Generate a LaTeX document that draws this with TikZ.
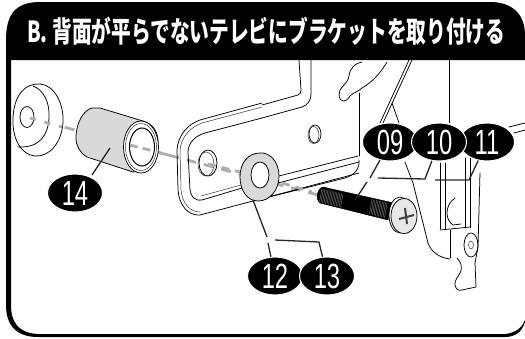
\documentclass[tikz,border=0pt]{standalone}
\usepackage{fontspec}
\usetikzlibrary{shapes.geometric}
\newfontfamily\cjkfont[FakeStretch=0.68]{Noto Sans CJK JP}
\newfontfamily\numfont[FakeStretch=0.68]{Liberation Sans}
\definecolor{partgray}{gray}{0.85}
\definecolor{axisgray}{gray}{0.68}
\tikzset{
  art/.style={draw=black,line width=0.75pt,line join=round,line cap=round},
  thinart/.style={draw=black!80,line width=0.5pt,line cap=round},
  axisline/.style={draw=axisgray,line width=2.8pt,dash pattern=on 10pt off 8pt},
  leader/.style={draw=black!85,line width=1.3pt},
  num/.style={shape=ellipse,fill=black,draw=white,line width=1pt,text=white,inner sep=0pt,minimum width=55pt,minimum height=38pt,font=\numfont\fontsize{35}{35}\selectfont},
  titletext/.style={text=white,inner sep=0pt,font=\cjkfont\bfseries\fontsize{29}{29}\selectfont}
}
\begin{document}
\begin{tikzpicture}[x=1pt,y=-1pt]
\useasboundingbox (0,0) rectangle (525,338);
\fill[white] (0,0) rectangle (525,338);
% frame
\fill[black] (6,40) .. controls (6,15) and (15,2) .. (40,2) -- (490,2) .. controls (512,2) and (525,14) .. (525,35) -- (525,60) -- (11,60) -- (11,305) .. controls (11,322) and (18,333) .. (38,334) -- (505,334) .. controls (515,333) and (522,328) .. (525,320) -- (525,322) .. controls (522,332) and (515,337) .. (505,337) -- (38,337) .. controls (16,337) and (6,325) .. (6,305) -- cycle;
\node[titletext,anchor=west] (title) at (27,31) {B. 背面が平らでないテレビにブラケットを取り付ける};
% axis
\draw[axisline] (30,118) -- (318,195);
% cap washer
\path[art,fill=white] (13,118) .. controls (14,95) and (25,83) .. (40,84) .. controls (55,85) and (64,105) .. (63,122) .. controls (62,142) and (50,157) .. (35,156) .. controls (22,155) and (12,140) .. (13,118) -- cycle;
\draw[art] (33,86) .. controls (44,90) and (50,103) .. (49,118) .. controls (48,135) and (40,148) .. (18,147);
\draw[art] (27,117) ellipse [x radius=7,y radius=10.5];
\draw[axisline,dash pattern=on 6pt off 9pt] (30,118) -- (62,127);
% sleeve
\path[art,fill=partgray] (92,108) .. controls (84,110) and (76,122) .. (76,138) .. controls (76,146) and (80,153) .. (87,157) -- (133,172) .. controls (150,170) and (158,155) .. (158,142) .. controls (158,130) and (152,124) .. (143,121) -- (100,108) -- cycle;
\path[art,fill=white] (141,147) ellipse [x radius=17.5,y radius=26];
\draw[thinart] (141,147) ellipse [x radius=15.5,y radius=23.5];
\path[draw=black,line width=1pt,fill=white] (142,147) ellipse [x radius=12.5,y radius=19];
\draw[axisline,dash pattern=on 8pt off 5pt] (130,145) -- (153,151);
\draw[axisline] (160,153) -- (177,157);
% bracket plate
\draw[art] (262,103) -- (200,120) .. controls (188,124) and (178,135) .. (177,150) -- (178,190) .. controls (179,205) and (188,216) .. (200,215) -- (359,173);
\draw[thinart] (262,107) -- (202,123) .. controls (190,127) and (181,138) .. (180,150) -- (181,190) .. controls (182,203) and (190,212) .. (200,212);
\draw[art] (262,118) -- (205,133) .. controls (195,136) and (188,143) .. (188,152) -- (190,190) .. controls (191,197) and (195,201) .. (202,200) -- (242,188);
\draw[thinart] (201,196) -- (241,185);
\draw[art] (262,118) -- (302,107) .. controls (308,105) and (311,100) .. (311,94) -- (311,60);
\draw[art] (262,105) -- (298,95) .. controls (300,94) and (301,93) .. (301,90) -- (299,60);
\draw[art] (208,163) ellipse [x radius=9,y radius=13];
\draw[thinart] (206,164) ellipse [x radius=8,y radius=12];
\draw[art] (315,134) ellipse [x radius=6,y radius=9];
\draw[thinart] (313.5,135) ellipse [x radius=5.5,y radius=8.5];
\draw[axisline,dash pattern=on 8pt off 6pt] (208,164) -- (240,172);
\draw[art] (275,177) -- (358,156);
\draw[art] (278,183) -- (359,162);
\draw[art] (269,197) -- (345,178) .. controls (355,175) and (360,168) .. (359,160);
\draw[art] (359,93) -- (359,156);
% upper bracket details
\draw[art] (362,62) .. controls (355,63) and (350,68) .. (349,76) .. controls (348,84) and (338,88) .. (339,95) .. controls (340,103) and (346,103) .. (350,96) .. controls (354,92) and (358,92) .. (362,88) .. controls (372,82) and (380,74) .. (387,62);
% washer
\path[art,fill=partgray] (260,153) .. controls (270,152) and (279,162) .. (279,176) .. controls (279,190) and (270,201) .. (258,201) .. controls (247,201) and (240,190) .. (240,177) .. controls (240,163) and (248,153) .. (260,153) -- cycle;
\path[art,fill=white] (260,175) ellipse [x radius=9,y radius=13];
\draw[axisline,dash pattern=on 8pt off 6pt] (282,183) -- (312,192);
% right structure
\draw[art] (409,60) -- (380,123);
\draw[art] (412,60) -- (383,123);
\draw[art] (392,103) -- (399,123);
\draw[art] (449,60) -- (449,123);
\draw[art] (405,162) -- (413,183) -- (428,243) .. controls (431,252) and (440,258) .. (450,259);
\draw[art] (440,163) -- (440,229);
\draw[art] (445,163) -- (445,229);
\draw[art] (465,158) -- (465,228);
\draw[art] (470,158) -- (470,228);
\draw[art] (480,173) -- (478,247) -- (475,263);
\draw[art] (440,230) -- (470,227);
\draw[art] (445,215) -- (445,215);
\draw[art] (455,198) .. controls (449,202) and (447,208) .. (447,213) .. controls (447,219) and (450,223) .. (453,225) -- (461,224);
\draw[art] (450,230) -- (450,258);
\draw[art] (471,245) ellipse [x radius=7,y radius=12];
\draw[thinart] (471,245) ellipse [x radius=2.5,y radius=4];
\draw[art] (457,258) .. controls (461,262) and (462,266) .. (461,271) .. controls (459,276) and (454,280) .. (455,285) .. controls (456,290) and (459,291) .. (462,290) -- (476,287) -- (475,263);
\draw[art] (509,127) -- (525,123);
\draw[art] (514,133) -- (525,130);
% screw
\path[fill=black,draw=black] (323,187) -- (394,203) -- (388,220) -- (320,203) .. controls (315,200) and (317,188) .. (323,187) -- cycle;
\foreach \t in {0,1.5,...,21}{\draw[white!45!black,line width=0.5pt] (322+\t,188.5+\t*0.25) -- (319.5+\t,202+\t*0.25);}
\foreach \t in {0,1.5,...,15}{\draw[white!45!black,line width=0.5pt] (372+\t,199+\t*0.25) -- (369.5+\t,214+\t*0.25);}
\path[art,fill=white] (400,215) ellipse [x radius=11,y radius=18];
\path[art,fill=partgray!60] (404,216) ellipse [x radius=13,y radius=17.5];
\draw[black!75,line width=2pt] (405,208) -- (407,224);
\draw[black!75,line width=2pt] (399,219) -- (414,215);
% leaders
\coordinate (p14) at (110,148);
\coordinate (p09) at (355,200);
\coordinate (p12) at (253,200);
\coordinate (j10) at (378,178);
\coordinate (k10) at (425,179);
\coordinate (j11) at (435,180);
\coordinate (k11) at (469,180);
\coordinate (j13) at (275,240);
\coordinate (k13) at (319,242);
\draw[leader] (p14) -- (92,175);
\node[num] (n14) at (75,193) {14};
\node[num] (n09) at (390,142) {09};
\node[num] (n11) at (487,142) {11};
\node[num] (n10) at (439,142) {10};
\node[num] (n12) at (275,276) {12};
\node[num] (n13) at (327,276) {13};
\draw[leader] (p09) -- (367,182);
\draw[leader] (370,178) -- (n09);
\draw[leader] (j10) -- (k10) -- (n10);
\draw[leader] (j11) -- (k11) -- (n11);
\draw[leader] (p12) -- (267,237);
\draw[leader] (268,243) -- (n12);
\draw[leader] (j13) -- (k13) -- (n13);
\end{tikzpicture}
\end{document}
